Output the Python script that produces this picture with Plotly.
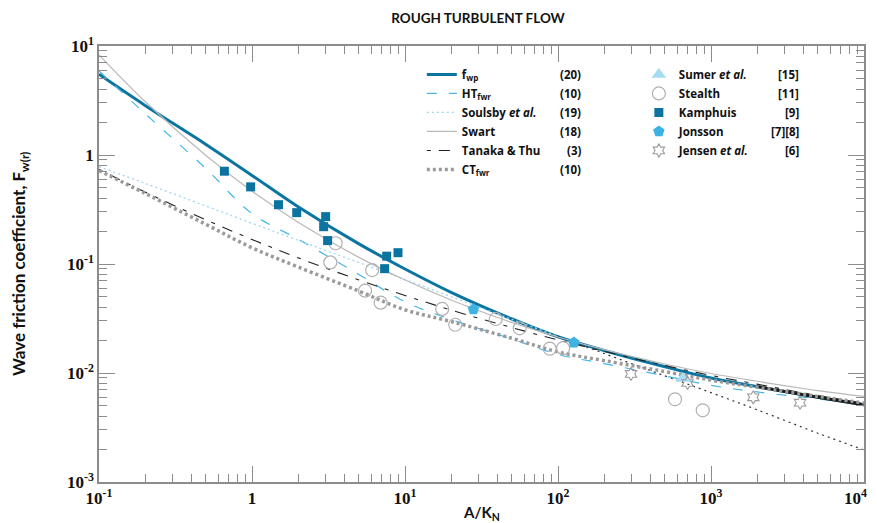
import plotly.graph_objects as go

# ---------------- data ----------------
x_curve = [0.1, 0.2, 0.5, 1, 2, 5, 10, 20, 50, 100, 200, 500, 1000, 2000, 5000, 10000]
fwp     = [5.5, 2.85, 1.25, 0.65, 0.335, 0.153, 0.090, 0.055, 0.0313, 0.0215, 0.0161, 0.0114, 0.0090, 0.0075, 0.0060, 0.0051]
ht_fwr  = [5.9, 2.4, 0.75, 0.29, 0.169, 0.080, 0.045, 0.031, 0.0205, 0.0148, 0.0122, 0.0094, 0.0077, 0.0067, 0.0058, 0.0051]
swart   = [8.3, 3.1, 0.99, 0.466, 0.242, 0.115, 0.0713, 0.0468, 0.0291, 0.0214, 0.0164, 0.0121, 0.0099, 0.0084, 0.0069, 0.0061]
tanaka  = [0.74, 0.457, 0.254, 0.168, 0.114, 0.0714, 0.0515, 0.0378, 0.0261, 0.0201, 0.0158, 0.0117, 0.0095, 0.0079, 0.0062, 0.0053]
ct_fwr  = [0.72, 0.445, 0.231, 0.141, 0.094, 0.0564, 0.038, 0.0297, 0.0208, 0.0156, 0.0130, 0.0103, 0.0086, 0.0074, 0.0061, 0.0053]

# the fwp curve is drawn black from about A/K_N = 2000 onwards in the reference
fwp_tail_x = [2000, 5000, 10000]
fwp_tail_y = [0.0075, 0.0060, 0.0051]

soulsby_x  = [0.1, 0.2, 0.5, 1, 2, 5, 10, 20, 50, 100]
soulsby_y  = [0.78, 0.55, 0.34, 0.237, 0.165, 0.103, 0.072, 0.050, 0.031, 0.0217]
soulsby2_x = [100, 200, 500, 1000, 2000, 5000, 10000]
soulsby2_y = [0.0217, 0.0151, 0.0094, 0.0066, 0.0046, 0.0028, 0.00197]

sumer_x = [653]
sumer_y = [0.0089]
stealth_x = [3.52, 3.25, 6.1, 5.48, 6.93, 17.5, 21.3, 39.2, 56.2, 88.3, 108, 582, 883]
stealth_y = [0.155, 0.1035, 0.088, 0.0569, 0.0442, 0.0387, 0.0277, 0.0313, 0.0257, 0.0167, 0.0169, 0.00574, 0.00455]
kamphuis_x = [0.66, 0.98, 1.49, 1.96, 3.03, 2.94, 3.12, 7.59, 9.0, 7.36]
kamphuis_y = [0.71, 0.51, 0.35, 0.296, 0.272, 0.22, 0.164, 0.118, 0.127, 0.0906]
jonsson_x = [28, 127]
jonsson_y = [0.0384, 0.019]
jensen_x = [300, 703, 1890, 3820]
jensen_y = [0.0098, 0.0081, 0.00598, 0.00534]

line_refs = ["(20)", "(10)", "(19)", "(18)", "(3)", "(10)"]
point_refs = ["[15]", "[11]", "[9]", "[7][8]", "[6]"]

x_tickvals = [0.1, 1, 10, 100, 1000, 10000]
x_ticktext = ["10<sup>-1</sup>", "1", "10<sup>1</sup>", "10<sup>2</sup>", "10<sup>3</sup>",
              "10<sup>4</sup>\u00a0\u00a0\u00a0\u00a0"]
y_tickvals = [0.001, 0.01, 0.1, 1, 10]
y_ticktext = ["10<sup>-3</sup>", "10<sup>-2</sup>", "10<sup>-1</sup>", "1", "10<sup>1</sup>"]

# ---------------- styling ----------------
DARK_BLUE = "#0b75a2"
LIGHT_BLUE = "#45b6e6"
PALE_BLUE = "#9fd6f0"
GRAY = "#b9b9b9"
AXIS_GRAY = "#8c8c8c"
SANS = "Lato"
LEG = "Open Sans"
SERIF = "Liberation Serif"

# the page body has an 8px margin: the figure is offset so the plot area lands
# at the same window pixels as the reference (plot area x 99..864, y 46..482)
OFF = 8
W, H = 877, 523 - OFF

fig = go.Figure()

def line_trace(x, y, name, color, width, dash, legend="legend", show=True):
    fig.add_trace(go.Scatter(x=x, y=y, mode="lines", name=name, legend=legend,
                             showlegend=show, line=dict(color=color, width=width, dash=dash, shape="spline")))

line_trace(x_curve, fwp, "f<sub>wp</sub>", DARK_BLUE, 3, "solid")
line_trace(x_curve, ht_fwr, "HT<sub>fwr</sub>", LIGHT_BLUE, 1.2, "10px,12px")
line_trace(soulsby_x, soulsby_y, "Soulsby <i>et al.</i>", PALE_BLUE, 1.3, "2px,3px")
line_trace(soulsby2_x, soulsby2_y, "Soulsby (ext.)", "#333333", 1.2, "2px,4px", show=False)
line_trace(x_curve, swart, "Swart", GRAY, 1.2, "solid")
line_trace(x_curve, tanaka, "Tanaka &amp; Thu", "#222222", 1.1, "4px,8px,11px,8px")
line_trace(fwp_tail_x, fwp_tail_y, "f<sub>wp</sub> (tail)", "#1a1a1a", 3, "solid", show=False)
line_trace(x_curve, ct_fwr, "CT<sub>fwr</sub>", "#9a9a9a", 3.5, "3px,3px")

def marker_trace(x, y, name, symbol, color, size, lw=0, lc=None):
    fig.add_trace(go.Scatter(x=x, y=y, mode="markers", name=name, legend="legend2",
                             marker=dict(symbol=symbol, color=color, size=size,
                                         line=dict(width=lw, color=lc or color))))

marker_trace(sumer_x, sumer_y, "Sumer <i>et al.</i>", "triangle-up", "#a6dbf2", 13)
marker_trace(stealth_x, stealth_y, "Stealth", "circle-open", "#b0b0b0", 13, 1.2, "#b0b0b0")
marker_trace(kamphuis_x, kamphuis_y, "Kamphuis", "square", "#0a73a0", 9)
marker_trace(jonsson_x, jonsson_y, "Jonsson", "pentagon", "#3db3e3", 12)
marker_trace(jensen_x, jensen_y, "Jensen <i>et al.</i>", "hexagram-open", "#9a9a9a", 10, 1.1, "#9a9a9a")

# minor tick positions (2..9 in each decade)
def minors(lo, hi):
    out = []
    for e in range(lo, hi):
        for m in range(2, 10):
            out.append(m * 10 ** e)
    return out

axis_common = dict(type="log", showgrid=False, zeroline=False, showline=True, automargin=False,
                   linecolor=AXIS_GRAY, linewidth=1.5, mirror="ticks",
                   ticks="inside", ticklen=16, tickwidth=1.3, tickcolor=AXIS_GRAY,
                   ticklabeloverflow="allow",
                   tickfont=dict(family=SERIF, size=17, color="#111111", weight="bold"))

fig.update_xaxes(range=[-1, 4], tickvals=x_tickvals, ticktext=x_ticktext,
                 minor=dict(tickvals=minors(-1, 4), ticks="inside", ticklen=8,
                            tickwidth=1.2, tickcolor=AXIS_GRAY),
                 **axis_common)
fig.update_yaxes(range=[-3, 1], tickvals=y_tickvals, ticktext=y_ticktext,
                 minor=dict(tickvals=minors(-3, 1), ticks="inside", ticklen=8,
                            tickwidth=1.2, tickcolor=AXIS_GRAY),
                 **axis_common)

legend_font = dict(family=LEG, size=11.5, color="#111111", weight="bold")
fig.update_layout(
    width=W, height=H,
    margin=dict(l=99 - OFF, r=W - (864 - OFF), t=46 - OFF, b=H - (482 - OFF), autoexpand=False),
    paper_bgcolor="white", plot_bgcolor="white",
    title=dict(text="ROUGH TURBULENT FLOW", x=(478 - OFF) / W, xanchor="center",
               y=1 - (18 - OFF) / H, yanchor="middle",
               font=dict(family=SANS, size=13.5, color="#111111", weight="bold")),
    legend=dict(x=0.422, y=0.968, xanchor="left", yanchor="top", bgcolor="rgba(0,0,0,0)",
                font=legend_font, traceorder="normal"),
    legend2=dict(x=0.7057, y=0.968, xanchor="left", yanchor="top", bgcolor="rgba(0,0,0,0)",
                 font=legend_font, traceorder="normal"),
    showlegend=True,
)

annotations = [
    dict(text="A/K<sub>N</sub>", x=0.5, y=-(513 - 482) / 436, xref="paper", yref="paper",
         xanchor="center", yanchor="middle", showarrow=False,
         font=dict(family=SANS, size=15, color="#111111", weight="bold")),
    dict(text="Wave friction coefficient, F<sub>w(r)</sub>", x=-(99 - 20) / 765, y=0.5,
         xref="paper", yref="paper", xanchor="center", yanchor="middle", textangle=-90,
         showarrow=False, font=dict(family=SANS, size=17, color="#111111", weight="bold")),
]
row_h = 19 / 436
top_row = 1 - (74 - 46) / 436
for i, r in enumerate(line_refs):
    annotations.append(dict(text=r, x=(583 - 99) / 765, y=top_row - i * row_h, xref="paper", yref="paper",
                            xanchor="right", yanchor="middle", showarrow=False, font=legend_font))
for i, r in enumerate(point_refs):
    annotations.append(dict(text=r, x=(801 - 99) / 765, y=top_row - i * row_h, xref="paper", yref="paper",
                            xanchor="right", yanchor="middle", showarrow=False, font=legend_font))
fig.update_layout(annotations=annotations)

fig.write_html("out.html")
